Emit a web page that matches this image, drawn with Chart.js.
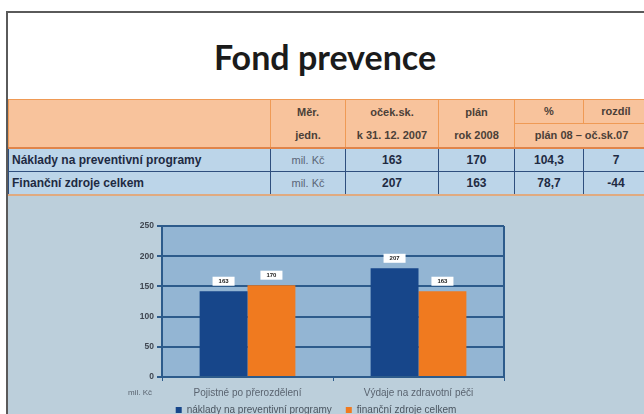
<!DOCTYPE html>
<html lang="cs">
<head>
<meta charset="utf-8">
<title>Fond prevence</title>
<script src="https://cdn.jsdelivr.net/npm/chart.js@4/dist/chart.umd.min.js"></script>
<style>
  html, body { margin: 0; padding: 0; }
  body { width: 644px; height: 414px; position: relative; overflow: hidden; background: #fff; font-family: "Liberation Sans", Arial, sans-serif; }
  #frame { position: absolute; left: 6px; top: 11px; width: 700px; height: 500px; border-top: 2px solid #5a5a5a; border-left: 2px solid #5a5a5a; }
  #title { position: absolute; left: 0; top: 38px; width: 650px; text-align: center; font-family: Lato, "Open Sans", sans-serif; font-weight: 700; font-size: 34px; line-height: 38px; color: #1b1b1b; }
  #panel { position: absolute; left: 8px; top: 193px; width: 700px; height: 230px; background: #bccfdb; }
  table { position: absolute; left: 8px; top: 99px; border-collapse: collapse; table-layout: fixed; width: 640px; font-weight: 700; }
  th { background: #f8c39c; border: 1px solid #ef9a55; color: #4b4038; font-size: 11px; font-weight: 700; height: 22px; padding: 0; text-align: center; line-height: 23px; }
  tr.hdr2 th { height: 22px; }
  td { background: #bcd5e9; border: 1px solid #2f4f7e; font-size: 12px; color: #1e2a42; height: 22px; padding: 0; text-align: center; }
  td.name { text-align: left; padding-left: 3px; }
  td.unit { color: #5a6577; font-weight: 400; font-size: 11px; }
  tbody tr:first-child td { border-top: 2px solid #e0844a; }
  tbody tr:last-child td { border-bottom: 2px solid #e0aa80; }
  #chartBox { position: absolute; left: 100px; top: 200px; width: 460px; height: 225px; }
</style>
</head>
<body>
<div id="frame"></div>
<div id="title">Fond prevence</div>
<div id="panel"></div>
<table>
  <colgroup><col style="width:262px"><col style="width:75px"><col style="width:93px"><col style="width:76px"><col style="width:69px"><col style="width:65px"></colgroup>
  <thead>
    <tr><th rowspan="2"></th><th rowspan="2">Měr.<br>jedn.</th><th rowspan="2">oček.sk.<br>k 31. 12. 2007</th><th rowspan="2">plán<br>rok 2008</th><th>%</th><th>rozdíl</th></tr>
    <tr class="hdr2"><th colspan="2">plán 08 – oč.sk.07</th></tr>
  </thead>
  <tbody id="tbl"></tbody>
</table>
<div id="chartBox"><canvas id="fondChart"></canvas></div>

<script>
'use strict';

/* --------------------------------------------------------------------------
   DATA
   -------------------------------------------------------------------------- */
const tableRows   = ['Náklady na preventivní programy', 'Finanční zdroje celkem'];
const tableUnit   = ['mil. Kč', 'mil. Kč'];
const tableExp07  = ['163', '207'];
const tablePlan08 = ['170', '163'];
const tablePct    = ['104,3', '78,7'];
const tableDiff   = ['7', '-44'];

const categories   = ['Pojistné po přerozdělení', 'Výdaje na zdravotní péči'];
const seriesNames  = ['náklady na preventivní programy', 'finanční zdroje celkem'];
const blueValues   = [142, 180];
const orangeValues = [152, 142];
const blueLabels   = ['163', '207'];
const orangeLabels = ['170', '163'];
const yTicks       = [0, 50, 100, 150, 200, 250];

const BLUE   = '#17468a';
const ORANGE = '#f07a1f';
const GRID   = '#2d5b8b';

/* --------------------------------------------------------------------------
   TABLE
   -------------------------------------------------------------------------- */
const tbody = document.getElementById('tbl');
tableRows.forEach((name, i) => {
    const tr = document.createElement('tr');
    tr.innerHTML = `<td class="name">${name}</td><td class="unit">${tableUnit[i]}</td>` +
        `<td>${tableExp07[i]}</td><td>${tablePlan08[i]}</td><td>${tablePct[i]}</td><td>${tableDiff[i]}</td>`;
    tbody.appendChild(tr);
});

/* --------------------------------------------------------------------------
   PLUGINS
   -------------------------------------------------------------------------- */
const plotFrame = {
    id: 'plotFrame',
    beforeDraw(chart) {
        const { ctx, chartArea: a } = chart;
        ctx.save();
        ctx.fillStyle = '#93b5d3';
        ctx.fillRect(a.left, a.top, a.right - a.left, a.bottom - a.top);
        ctx.restore();
    },
    afterDatasetsDraw(chart) {
        const { ctx, chartArea: a } = chart;
        ctx.save();
        ctx.strokeStyle = GRID;
        ctx.lineWidth = 2;
        ctx.beginPath();
        ctx.moveTo(a.right, a.top);
        ctx.lineTo(a.right, a.bottom);
        ctx.stroke();
        // unit label under the y axis
        ctx.fillStyle = '#5a6470';
        ctx.font = '8px "Liberation Sans", Arial, sans-serif';
        ctx.textAlign = 'center';
        ctx.textBaseline = 'middle';
        ctx.fillText('mil. Kč', a.left - 22, a.bottom + 16);
        ctx.restore();
    },
};

const valueBoxes = {
    id: 'valueBoxes',
    afterDatasetsDraw(chart) {
        const { ctx } = chart;
        const texts = [blueLabels, orangeLabels];
        ctx.save();
        ctx.font = 'bold 6px "Liberation Sans", Arial, sans-serif';
        ctx.textAlign = 'center';
        ctx.textBaseline = 'middle';
        chart.data.datasets.forEach((ds, d) => {
            chart.getDatasetMeta(d).data.forEach((bar, i) => {
                const cy = bar.y - 10;
                ctx.fillStyle = '#ffffff';
                ctx.fillRect(bar.x - 11, cy - 4.5, 22, 9);
                ctx.fillStyle = '#222';
                ctx.fillText(texts[d][i], bar.x, cy + 0.5);
            });
        });
        ctx.restore();
    },
};

/* --------------------------------------------------------------------------
   BAR CHART
   -------------------------------------------------------------------------- */
Chart.defaults.font.family = '"Liberation Sans", Arial, sans-serif';
const defaultLegendLabels = Chart.defaults.plugins.legend.labels.generateLabels;

new Chart(document.getElementById('fondChart'), {
    type: 'bar',
    data: {
        labels: categories,
        datasets: [
            { label: seriesNames[0], data: blueValues, backgroundColor: BLUE },
            { label: seriesNames[1], data: orangeValues, backgroundColor: ORANGE },
        ],
    },
    options: {
        responsive: true,
        maintainAspectRatio: false,
        animation: false,
        categoryPercentage: 0.56,
        barPercentage: 1,
        layout: { padding: { top: 26, right: 56, bottom: 0, left: 28 } },
        plugins: {
            legend: {
                position: 'bottom',
                labels: {
                    boxWidth: 6, boxHeight: 6, padding: 4, color: '#4a5560', font: { size: 10 },
                    // wider gap between the two entries, as in the original slide
                    generateLabels: chart => defaultLegendLabels(chart).map((item, i) =>
                        i === 0 ? { ...item, text: item.text + '\u2003' } : item),
                },
            },
            tooltip: { enabled: false },
        },
        scales: {
            y: {
                min: 0, max: 250,
                afterBuildTicks: s => { s.ticks = yTicks.map(v => ({ value: v })); },
                afterFit: s => { s.width = 34; },
                ticks: { color: '#3f4650', padding: 3, font: { size: 8.5, weight: 'bold' } },
                grid: { color: GRID, lineWidth: 2, tickLength: 5, tickColor: GRID },
                border: { color: GRID, width: 2 },
            },
            x: {
                afterFit: s => { s.height = 24; },
                grid: { drawOnChartArea: false, tickLength: 4, tickColor: GRID },
                border: { color: GRID, width: 2 },
                ticks: { color: '#5a6470', padding: 6, font: { size: 10 } },
            },
        },
    },
    plugins: [plotFrame, valueBoxes],
});
</script>
</body>
</html>
